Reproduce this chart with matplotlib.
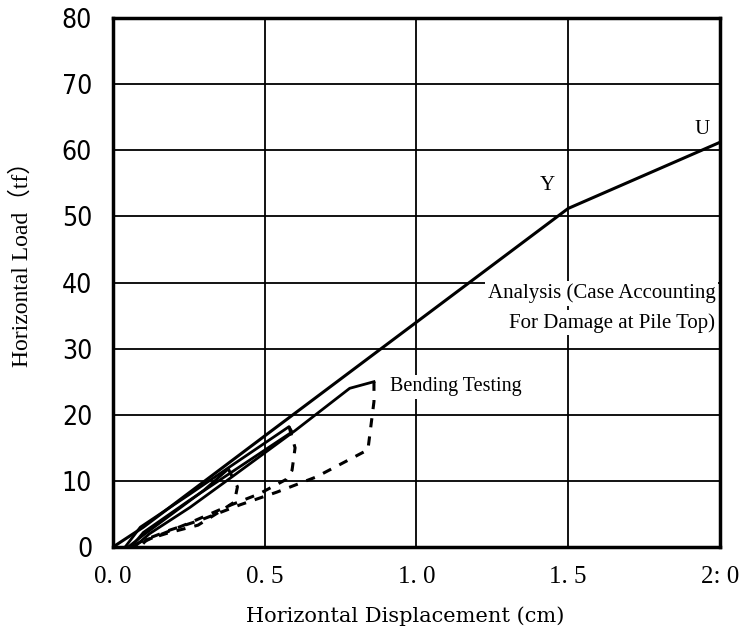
import matplotlib
matplotlib.use("Agg")
import matplotlib.pyplot as plt

# Analysis curve (case accounting for damage at pile top)
ana_x = [0.0, 0.1, 0.5, 1.0, 1.5, 2.0]
ana_y = [0.0, 3.0, 16.8, 34.0, 51.2, 61.2]

# Bending test - loading branches (solid)
c1_x = [0.05, 0.10, 0.20, 0.30, 0.38]
c1_y = [0.0, 1.8, 5.2, 8.6, 11.8]
c2_x = [0.04, 0.09, 0.25, 0.40, 0.58, 0.59, 0.40, 0.25, 0.10, 0.06]
c2_y = [0.0, 3.0, 7.9, 12.6, 18.2, 17.4, 11.6, 7.0, 2.2, 0.0]
c3_x = [0.07, 0.12, 0.254, 0.386, 0.60, 0.78, 0.86]
c3_y = [0.0, 2.0, 6.0, 10.4, 17.6, 24.0, 25.0]

# Bending test - unloading branches (dashed)
u1_x = [0.38, 0.41, 0.40, 0.35, 0.28, 0.18, 0.11, 0.09]
u1_y = [11.8, 9.1, 6.8, 5.3, 3.3, 2.1, 1.1, 0.0]
u2_x = [0.58, 0.60, 0.59, 0.57, 0.48, 0.38, 0.25, 0.12, 0.07]
u2_y = [18.2, 15.0, 11.6, 10.2, 8.0, 6.2, 3.6, 1.2, 0.0]
u3_x = [0.86, 0.86, 0.84, 0.67, 0.54, 0.42, 0.29, 0.19, 0.10, 0.06]
u3_y = [25.0, 22.0, 14.7, 10.6, 8.3, 6.4, 4.1, 2.6, 1.0, 0.0]

xticks = [0.0, 0.5, 1.0, 1.5, 2.0]
xtick_labels = ["0. 0", "0. 5", "1. 0", "1. 5", "2: 0"]
yticks = [0, 10, 20, 30, 40, 50, 60, 70, 80]

serif = ["Liberation Serif", "DejaVu Serif"]

fig = plt.figure(figsize=(7.46, 6.32), dpi=100)
ax = fig.add_axes([0.1515, 0.1345, 0.8135, 0.837])

ax.plot(ana_x, ana_y, color="black", lw=2.2)
for xs, ys in [(c1_x, c1_y), (c2_x, c2_y), (c3_x, c3_y)]:
    ax.plot(xs, ys, color="black", lw=2.0)
for xs, ys in [(u1_x, u1_y), (u2_x, u2_y), (u3_x, u3_y)]:
    ax.plot(xs, ys, color="black", lw=2.2, ls=(0, (3, 3)))

ax.set_xlim(0, 2.0)
ax.set_ylim(0, 80)
ax.set_xticks(xticks)
ax.set_xticklabels(xtick_labels, family="Liberation Serif", fontsize=18)
ax.set_yticks(yticks)
ax.set_yticklabels([str(v) for v in yticks], family="DejaVu Sans",
                   fontstretch="condensed", fontsize=19)
ax.tick_params(axis="x", length=0, pad=14)
ax.tick_params(axis="y", length=0, pad=15)
ax.grid(True, color="black", lw=1.3)
ax.set_axisbelow(True)
for s in ax.spines.values():
    s.set_linewidth(2.5)

ax.set_xlabel("Horizontal Displacement (cm)", family="DejaVu Serif", fontsize=15)
ax.xaxis.set_label_coords(0.481, -0.112)
ax.set_ylabel("Horizontal Load\uff08tf\uff09", family=["Liberation Serif", "Noto Sans CJK JP"],
              fontsize=17)
ax.yaxis.set_label_coords(-0.132, 0.546)

ax.text(1.43, 54.6, "Y", family=serif, fontsize=15, ha="center", va="center")
ax.text(1.94, 63.2, "U", family=serif, fontsize=15, ha="center", va="center")
box = dict(facecolor="white", edgecolor="none", pad=2)
ax.text(1.985, 38.4, "Analysis (Case Accounting", family=serif, fontsize=15,
        ha="right", va="center", bbox=box, zorder=2.2)
ax.text(1.985, 33.9, "For Damage at Pile Top)", family=serif, fontsize=15,
        ha="right", va="center", bbox=box, zorder=2.2)
ax.text(0.914, 24.2, "Bending Testing", family=serif, fontsize=14.5,
        ha="left", va="center", bbox=box, zorder=2.2)

fig.savefig("out.png", dpi=100)
